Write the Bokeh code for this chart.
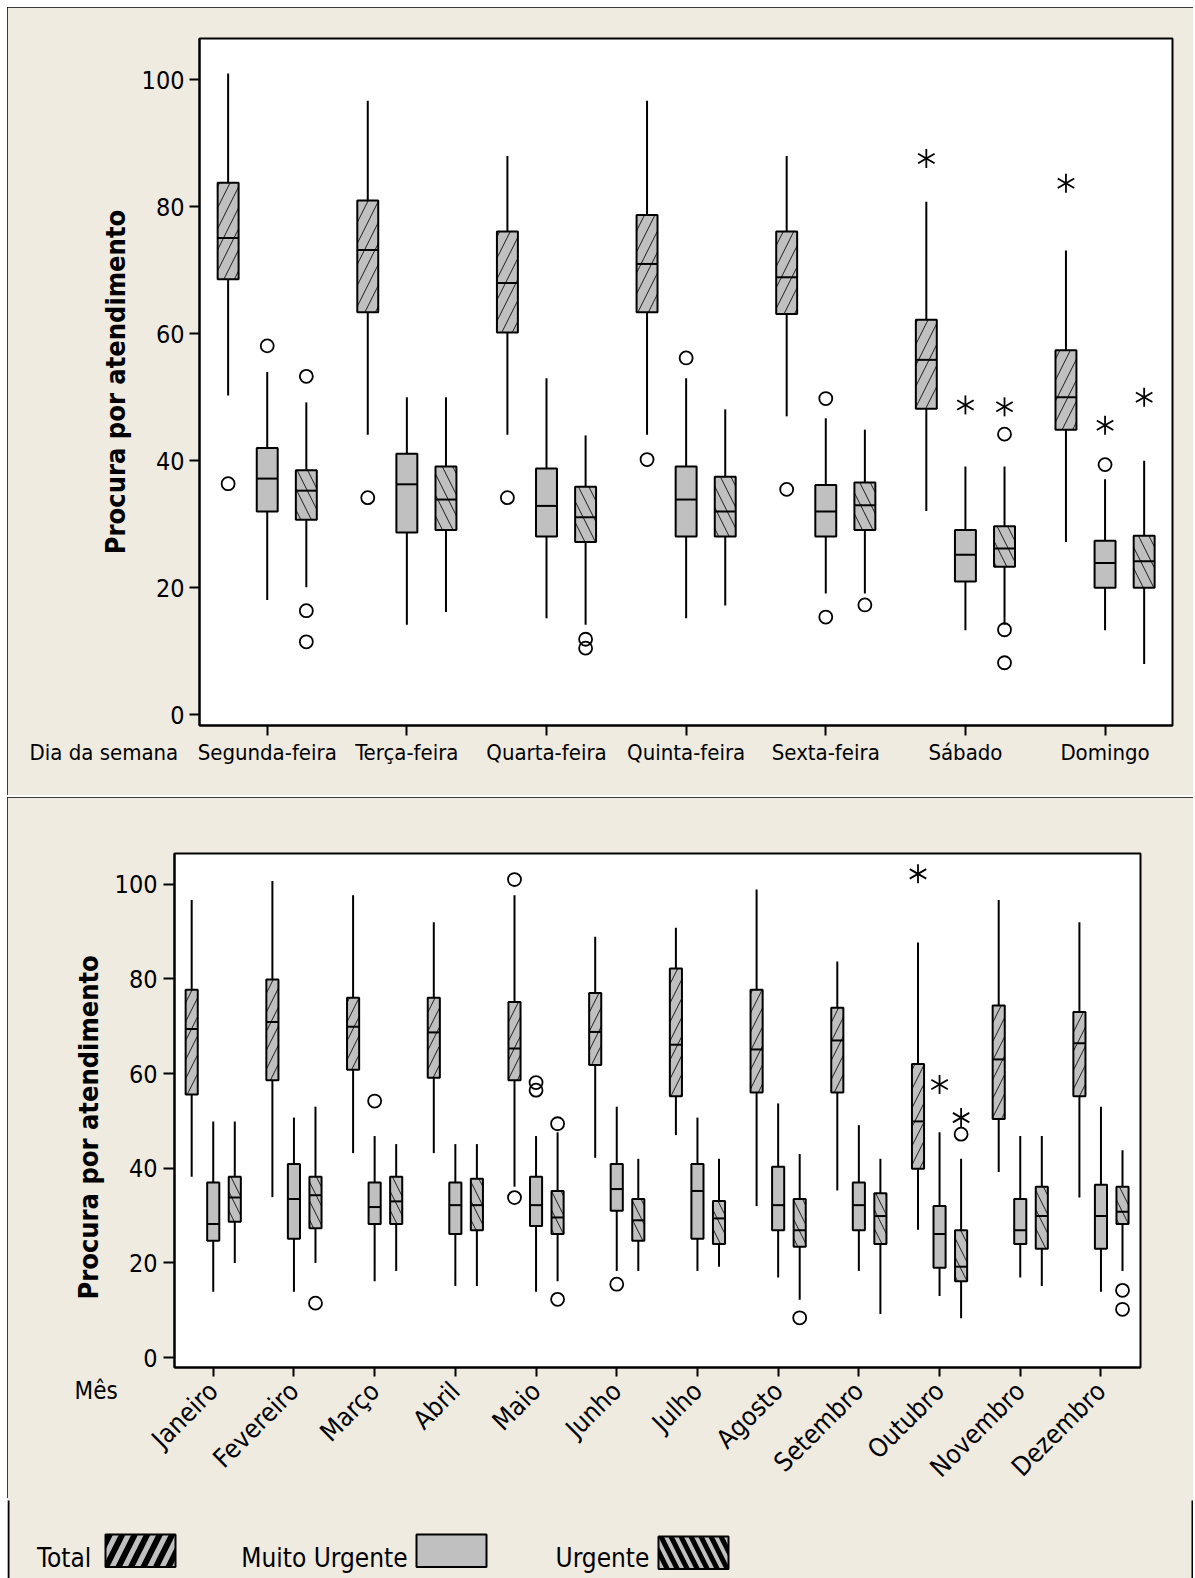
import numpy as np
from math import pi
from bokeh.plotting import figure
from bokeh.models import FixedTicker, Range1d, ColumnDataSource, Title
from bokeh.layouts import column, row
from bokeh.core.properties import value
from bokeh.embed import file_html
from bokeh.resources import INLINE

FONT = "'DejaVu Sans Condensed', 'Liberation Sans', sans-serif"
BEIGE = "#EFEBE1"
GRAY = "#C0C0C0"
OUTLINE = {"outline": "2px solid black", "outline-offset": "-2px"}
OUTLINE_OPEN_BOTTOM = {"outline": "2px solid black", "outline-offset": "-2px",
                       "clip-path": "inset(0px 0px 2px 0px)"}

# ---------------- Dados: dia da semana ----------------
dias = ["Segunda-feira", "Terça-feira", "Quarta-feira", "Quinta-feira",
        "Sexta-feira", "Sábado", "Domingo"]

dia_total_min = [50.3, 44.1, 44.1, 44.1, 47.0, 32.1, 27.2]
dia_total_q1 = [68.6, 63.4, 60.2, 63.4, 63.1, 48.2, 44.9]
dia_total_med = [75.1, 73.2, 68.0, 71.0, 68.9, 55.9, 50.0]
dia_total_q3 = [83.8, 81.0, 76.1, 78.7, 76.1, 62.2, 57.4]
dia_total_max = [101.0, 96.7, 88.0, 96.7, 88.0, 80.8, 73.1]
dia_total_out = [("Segunda-feira", 36.4), ("Terça-feira", 34.2), ("Quarta-feira", 34.2),
                 ("Quinta-feira", 40.2), ("Sexta-feira", 35.5)]
dia_total_ext = [("Sábado", 87.6), ("Domingo", 83.7)]

dia_mu_min = [18.1, 14.2, 15.2, 15.2, 19.1, 13.3, 13.3]
dia_mu_q1 = [32.0, 28.7, 28.1, 28.1, 28.1, 21.0, 20.0]
dia_mu_med = [37.2, 36.3, 32.9, 33.9, 32.0, 25.2, 23.9]
dia_mu_q3 = [42.0, 41.1, 38.8, 39.1, 36.2, 29.1, 27.4]
dia_mu_max = [54.0, 50.0, 53.0, 53.0, 46.7, 39.1, 37.1]
dia_mu_out = [("Segunda-feira", 58.1), ("Quinta-feira", 56.2), ("Sexta-feira", 49.8),
              ("Sexta-feira", 15.4), ("Domingo", 39.4)]
dia_mu_ext = [("Sábado", 48.8), ("Domingo", 45.6)]

dia_u_min = [20.1, 16.2, 14.2, 17.2, 19.1, 14.2, 8.0]
dia_u_q1 = [30.7, 29.1, 27.2, 28.1, 29.1, 23.3, 20.0]
dia_u_med = [35.3, 33.9, 31.1, 32.0, 33.0, 26.2, 24.2]
dia_u_q3 = [38.5, 39.1, 35.9, 37.5, 36.6, 29.7, 28.2]
dia_u_max = [49.2, 50.0, 44.0, 48.1, 44.9, 39.1, 40.0]
dia_u_out = [("Segunda-feira", 53.3), ("Segunda-feira", 16.4), ("Segunda-feira", 11.5),
             ("Quarta-feira", 11.9), ("Quarta-feira", 10.5), ("Sexta-feira", 17.3),
             ("Sábado", 44.2), ("Sábado", 13.4), ("Sábado", 8.2)]
dia_u_ext = [("Sábado", 48.5), ("Domingo", 50.0)]

# ---------------- Dados: mês ----------------
meses = ["Janeiro", "Fevereiro", "Março", "Abril", "Maio", "Junho", "Julho",
         "Agosto", "Setembro", "Outubro", "Novembro", "Dezembro"]

mes_total_min = [38.2, 33.9, 43.2, 43.2, 36.1, 42.2, 47.0, 32.0, 35.3, 27.0, 39.2, 33.8]
mes_total_q1 = [55.6, 58.6, 60.8, 59.1, 58.6, 61.8, 55.2, 56.0, 56.0, 39.9, 50.4, 55.2]
mes_total_med = [69.4, 70.9, 69.9, 68.7, 65.3, 68.8, 66.1, 65.1, 67.0, 49.9, 63.0, 66.4]
mes_total_q3 = [77.7, 79.9, 76.0, 76.0, 75.1, 77.0, 82.2, 77.7, 73.9, 62.0, 74.4, 73.0]
mes_total_max = [96.7, 100.7, 97.7, 92.0, 97.7, 88.9, 90.8, 98.9, 83.7, 87.7, 96.7, 92.0]
mes_total_out = [("Maio", 101.0), ("Maio", 33.8)]
mes_total_ext = [("Outubro", 102.2)]

mes_mu_min = [13.9, 13.9, 16.1, 15.1, 13.9, 18.3, 18.3, 16.9, 18.3, 13.0, 16.9, 13.9]
mes_mu_q1 = [24.7, 25.1, 28.2, 26.1, 27.8, 31.0, 25.1, 26.9, 26.9, 19.0, 24.0, 23.0]
mes_mu_med = [28.2, 33.5, 31.8, 32.2, 32.2, 35.6, 35.2, 32.2, 32.2, 26.1, 26.9, 29.9]
mes_mu_q3 = [37.0, 40.9, 37.0, 37.0, 38.2, 40.9, 40.9, 40.3, 37.0, 32.0, 33.5, 36.5]
mes_mu_max = [49.9, 50.7, 46.8, 45.1, 46.8, 53.0, 50.7, 53.7, 49.1, 47.6, 46.8, 53.0]
mes_mu_out = [("Março", 54.2), ("Maio", 58.1), ("Maio", 56.5), ("Junho", 15.5)]
mes_mu_ext = [("Outubro", 57.7)]

mes_u_min = [20.0, 20.0, 18.3, 15.1, 16.1, 18.3, 19.2, 12.2, 9.2, 8.3, 15.1, 18.3]
mes_u_q1 = [28.7, 27.3, 28.2, 26.9, 26.1, 24.7, 24.0, 23.4, 24.0, 16.1, 23.0, 28.2]
mes_u_med = [33.8, 34.3, 33.0, 32.2, 29.6, 29.0, 29.4, 26.9, 29.9, 19.2, 29.9, 30.8]
mes_u_q3 = [38.2, 38.2, 38.2, 37.8, 35.2, 33.5, 33.1, 33.5, 34.7, 26.9, 36.1, 36.1]
mes_u_max = [49.9, 53.0, 45.1, 45.1, 47.6, 42.0, 42.0, 43.0, 42.0, 42.0, 46.8, 43.8]
mes_u_out = [("Fevereiro", 11.5), ("Maio", 49.4), ("Maio", 12.3), ("Agosto", 8.4),
             ("Outubro", 47.2), ("Dezembro", 14.2), ("Dezembro", 10.2)]
mes_u_ext = [("Outubro", 50.7)]

y_ticks = [0, 20, 40, 60, 80, 100]
y_label = "Procura por atendimento"
series_names = ["Total", "Muito Urgente", "Urgente"]
series_hatch = ["/", " ", "\\"]


def caixas(p, cats, offset, width, lo, q1, med, q3, hi, out, ext, hatch, hscale):
    idx = {c: i for i, c in enumerate(cats)}
    x = np.arange(len(cats)) + offset
    src = ColumnDataSource(dict(x=x, x0=x - width / 2, x1=x + width / 2,
                                lo=lo, q1=q1, med=med, q3=q3, hi=hi))
    p.segment("x", "q3", "x", "hi", source=src, line_color="black", line_width=2)
    p.segment("x", "lo", "x", "q1", source=src, line_color="black", line_width=2)
    p.quad(left="x0", right="x1", bottom="q1", top="q3", source=src,
           fill_color=GRAY, line_color="black", line_width=2,
           hatch_pattern=hatch, hatch_color="black", hatch_scale=hscale,
           hatch_weight=1, hatch_alpha=0.85)
    p.segment("x0", "med", "x1", "med", source=src, line_color="black", line_width=2)
    if out:
        ox = [idx[c] + offset for c, v in out]
        oy = [v for c, v in out]
        p.scatter(ox, oy, marker="circle", size=13, fill_color=None,
                  line_color="black", line_width=1.8)
    if ext:
        ex = [idx[c] + offset for c, v in ext]
        ey = [v for c, v in ext]
        for ang in (pi / 2, pi / 6, -pi / 6):
            p.scatter(ex, ey, marker="dash", size=19, angle=ang,
                      line_color="black", line_width=1.8)


def painel(cats, xr, yr, fw, fh, mbl, mbr, mbt, mbb, ytick, ystand, xtick, xstand,
           lab_size, orient, ylab_stand, ylab_text, styles):
    p = figure(frame_width=fw, frame_height=fh, x_range=Range1d(*xr), y_range=Range1d(*yr),
               output_backend="svg", toolbar_location=None,
               min_border_left=mbl, min_border_right=mbr,
               min_border_top=mbt, min_border_bottom=mbb, styles=styles)
    p.xgrid.visible = False
    p.ygrid.visible = False
    p.border_fill_color = BEIGE
    p.background_fill_color = "white"
    p.outline_line_color = "black"
    p.outline_line_width = 2
    p.yaxis.ticker = FixedTicker(ticks=y_ticks)
    p.xaxis.ticker = FixedTicker(ticks=list(range(len(cats))))
    p.xaxis.major_label_overrides = {i: c for i, c in enumerate(cats)}
    for ax in (p.xaxis, p.yaxis):
        ax.axis_line_color = "black"
        ax.axis_line_width = 2
        ax.major_tick_line_color = "black"
        ax.major_tick_line_width = 2
        ax.major_tick_in = 0
        ax.minor_tick_line_color = None
        ax.major_label_text_font = FONT
        ax.major_label_text_color = "black"
    p.yaxis.major_tick_out = ytick
    p.yaxis.major_label_standoff = ystand
    p.yaxis.major_label_text_font_size = "25px"
    p.xaxis.major_tick_out = xtick
    p.xaxis.major_label_standoff = xstand
    p.xaxis.major_label_text_font_size = lab_size
    if orient is not None:
        p.xaxis.major_label_orientation = orient
    p.yaxis.axis_label = ylab_text
    p.yaxis.axis_label_text_font = FONT
    p.yaxis.axis_label_text_font_style = "bold"
    p.yaxis.axis_label_text_font_size = "27px"
    p.yaxis.axis_label_text_color = "black"
    p.yaxis.axis_label_standoff = ylab_stand
    return p


# ---------------- Painel superior ----------------
p1 = painel(dias, (-0.485, 6.483), (-1.68, 106.5), 973, 687, 192, 21, 31, 70,
            10, 5, 10, 4, "22px", None, 8, y_label, OUTLINE)
caixas(p1, dias, -0.28, 0.15, dia_total_min, dia_total_q1, dia_total_med, dia_total_q3,
       dia_total_max, dia_total_out, dia_total_ext, series_hatch[0], 21)
caixas(p1, dias, 0.0, 0.15, dia_mu_min, dia_mu_q1, dia_mu_med, dia_mu_q3,
       dia_mu_max, dia_mu_out, dia_mu_ext, None, 21)
caixas(p1, dias, 0.28, 0.15, dia_u_min, dia_u_q1, dia_u_med, dia_u_q3,
       dia_u_max, dia_u_out, dia_u_ext, series_hatch[2], 21)

p1.add_layout(Title(text="Dia da semana", align="left", vertical_align="top",
                    offset=-170, standoff=-56, text_font=FONT, text_font_size="22px",
                    text_font_style="normal", text_color="black"), "below")

# ---------------- Painel inferior ----------------
# (espaços não separáveis no fim deslocam o rótulo para baixo, como no original)
p2 = painel(meses, (-0.48, 11.49), (-2.1, 106.5), 966, 514, 167, 53, 56, 133,
            11, 6, 9, 10, "26px", pi / 4, 8, y_label + "\u00a0" * 4, OUTLINE_OPEN_BOTTOM)
caixas(p2, meses, -0.267, 0.15, mes_total_min, mes_total_q1, mes_total_med, mes_total_q3,
       mes_total_max, mes_total_out, mes_total_ext, series_hatch[0], 19)
caixas(p2, meses, 0.0, 0.15, mes_mu_min, mes_mu_q1, mes_mu_med, mes_mu_q3,
       mes_mu_max, mes_mu_out, mes_mu_ext, None, 19)
caixas(p2, meses, 0.267, 0.15, mes_u_min, mes_u_q1, mes_u_med, mes_u_q3,
       mes_u_max, mes_u_out, mes_u_ext, series_hatch[2], 19)
p2.add_layout(Title(text="Mês", align="left", vertical_align="top",
                    offset=-100, standoff=-240, text_font=FONT, text_font_size="24px",
                    text_font_style="normal", text_color="black"), "below")

# ---------------- Legenda (faixa inferior, coordenadas em pixels) ----------------
LW, LH = 1186, 79
p3 = figure(frame_width=LW, frame_height=LH, x_range=Range1d(0, LW), y_range=Range1d(LH, 0),
            output_backend="svg", toolbar_location=None, min_border=0,
            x_axis_type=None, y_axis_type=None)
p3.background_fill_color = BEIGE
p3.border_fill_color = BEIGE
p3.outline_line_color = None
# bordas laterais do painel
p3.segment(x0=[1, LW - 1], y0=[-2, -2], x1=[1, LW - 1], y1=[LH + 2, LH + 2],
           line_color="black", line_width=2)

leg_text_x = [29.6, 233.8, 548.0]
leg_text_y = [57.5, 57.0, 57.0]
leg_key_left = [98.0, 409.0, 651.0]
leg_key_top = [34.0, 34.0, 36.0]
leg_key_w, leg_key_h = 70.0, 32.5
leg_hatch_scale = [25, 1, 20]
leg_hatch_weight = [6, 1, 5]

p3.text(x=leg_text_x, y=leg_text_y, text=series_names, text_font=value(FONT),
        text_font_size=value("26px"), text_align="left", text_baseline="alphabetic",
        text_color="black")
p3.quad(left=leg_key_left, right=[v + leg_key_w for v in leg_key_left],
        top=leg_key_top, bottom=[v + leg_key_h for v in leg_key_top],
        fill_color=GRAY, line_color="black", line_width=2,
        hatch_pattern=series_hatch, hatch_color="black",
        hatch_weight=leg_hatch_weight, hatch_scale=leg_hatch_scale)

lower = column(p2, row(p3), spacing=0, styles={"background-color": BEIGE})
layout = column(p1, lower, spacing=2, margin=(7, 0, 0, 7))
open("out.html", "w").write(file_html(layout, INLINE))
